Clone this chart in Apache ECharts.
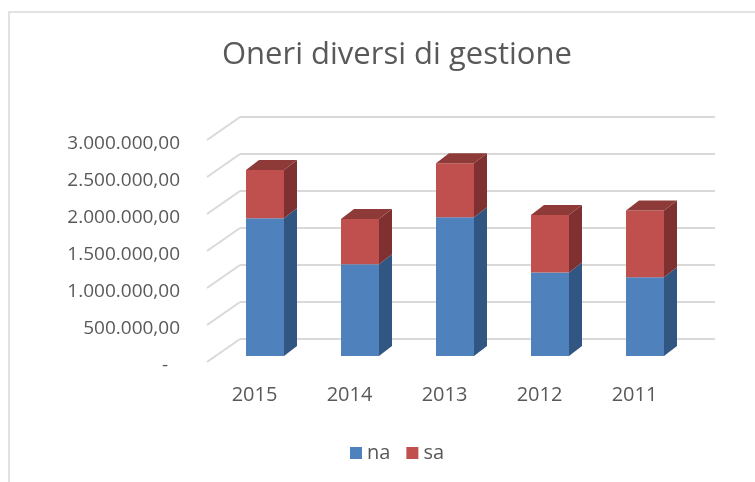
<!DOCTYPE html>
<html>
<head>
<meta charset="utf-8">
<script src="https://cdn.jsdelivr.net/npm/echarts@6/dist/echarts.min.js"></script>
<style>html,body{margin:0;padding:0;background:#fff}#c{width:755px;height:482px}</style>
</head>
<body>
<div id="c"></div>
<script>
const categories = ['2015', '2014', '2013', '2012', '2011'];
const naValues = [1860000, 1240000, 1875000, 1130000, 1065000];
const saValues = [655000, 610000, 730000, 775000, 900000];
const yTicks = [0, 500000, 1000000, 1500000, 2000000, 2500000, 3000000];
const yTickLabels = ['-', '500.000,00', '1.000.000,00', '1.500.000,00', '2.000.000,00', '2.500.000,00', '3.000.000,00'];

const FONT = 'Open Sans';
const TXT = '#595959';
const GRID = '#D9D9D9';
const DX = 13, DY = -10;           // bar depth
const WX = -33, WY = 23;           // side wall depth (back -> front)

function barRenderer(getLo, getHi, front, side, top, drawTop) {
  return function (params, api) {
    const i = params.dataIndex;
    const lo = getLo(i), hi = getHi(i);
    const pLo = api.coord([i, lo]);
    const pHi = api.coord([i, hi]);
    const w = api.size([1, 0])[0] * 0.4;
    const x0 = pLo[0] - w / 2, x1 = pLo[0] + w / 2;
    const yb = pLo[1], yt = pHi[1];
    const children = [
      { type: 'polygon', shape: { points: [[x1, yb], [x1 + DX, yb + DY], [x1 + DX, yt + DY], [x1, yt]] }, style: { fill: side } },
      { type: 'rect', shape: { x: x0, y: yt, width: w, height: yb - yt }, style: { fill: front } }
    ];
    if (drawTop) {
      children.push({ type: 'polygon', shape: { points: [[x0, yt], [x1, yt], [x1 + DX, yt + DY], [x0 + DX, yt + DY]] }, style: { fill: top } });
    }
    return { type: 'group', children: children };
  };
}

const chart = echarts.init(document.getElementById('c'));
chart.setOption({
  animation: false,
  backgroundColor: '#fff',
  title: {
    text: 'Oneri diversi di gestione',
    left: 217, top: 35,
    textStyle: { fontFamily: FONT, fontSize: 31, fontWeight: 'normal', color: TXT }
  },
  legend: {
    left: 345, top: 438,
    icon: 'rect', itemWidth: 12, itemHeight: 12, itemGap: 16,
    textStyle: { fontFamily: FONT, fontSize: 20, color: TXT },
    data: [{ name: 'na', itemStyle: { color: '#4F81BD' } }, { name: 'sa', itemStyle: { color: '#C0504D' } }]
  },
  graphic: [{
    type: 'rect', shape: { x: 9, y: 12, width: 900, height: 600 },
    style: { fill: 'none', stroke: GRID, lineWidth: 1.5 }, z: -1
  }],
  grid: [
    { left: 217.5, width: 475, top: 134, height: 222 },   // bar front plane
    { left: 240, width: 475, top: 117, height: 222 },     // back wall
    { left: 207, width: 475, top: 144, height: 222 }      // labels (front)
  ],
  xAxis: [
    { gridIndex: 0, type: 'category', data: categories, show: false },
    { gridIndex: 1, type: 'value', min: 0, max: 1, show: false },
    { gridIndex: 2, type: 'category', data: categories, axisLine: { show: false }, axisTick: { show: false },
      axisLabel: { margin: 19, fontFamily: FONT, fontSize: 20, color: TXT } }
  ],
  yAxis: [
    { gridIndex: 0, type: 'value', min: 0, max: 3000000, interval: 500000, show: false },
    { gridIndex: 1, type: 'value', min: 0, max: 3000000, interval: 500000,
      axisLine: { show: false }, axisTick: { show: false }, axisLabel: { show: false },
      splitLine: { show: true, lineStyle: { color: GRID, width: 2 } } },
    { gridIndex: 2, type: 'value', min: 0, max: 3000000, interval: 500000,
      axisLine: { show: false }, axisTick: { show: false }, splitLine: { show: false },
      axisLabel: {
        margin: 27, fontFamily: FONT, fontSize: 19, color: TXT,
        formatter: function (v) {
          const k = yTicks.indexOf(v);
          return k === 0 ? '{d|' + yTickLabels[0] + '}' : yTickLabels[k];
        },
        rich: { d: { fontFamily: FONT, fontSize: 19, color: TXT, padding: [0, 12, 0, 0] } }
      } }
  ],
  series: [
    {
      type: 'custom', name: 'wall', xAxisIndex: 1, yAxisIndex: 1, silent: true, z: 1,
      data: yTicks.map(function (v) { return [0, v]; }),
      renderItem: function (params, api) {
        const p = api.coord([0, api.value(1)]);
        return { type: 'line', shape: { x1: p[0], y1: p[1], x2: p[0] + WX, y2: p[1] + WY },
          style: { stroke: GRID, lineWidth: 2 } };
      }
    },
    {
      type: 'custom', name: 'na', xAxisIndex: 0, yAxisIndex: 0, z: 3,
      itemStyle: { color: '#4F81BD' },
      data: naValues.map(function (v, i) { return [i, v]; }),
      renderItem: barRenderer(function () { return 0; }, function (i) { return naValues[i]; },
        '#4F81BD', '#325682', '#3A6496', false)
    },
    {
      type: 'custom', name: 'sa', xAxisIndex: 0, yAxisIndex: 0, z: 4,
      itemStyle: { color: '#C0504D' },
      data: saValues.map(function (v, i) { return [i, naValues[i] + v]; }),
      renderItem: barRenderer(function (i) { return naValues[i]; }, function (i) { return naValues[i] + saValues[i]; },
        '#C0504D', '#7E3130', '#8E3A38', true)
    }
  ]
});
</script>
</body>
</html>
